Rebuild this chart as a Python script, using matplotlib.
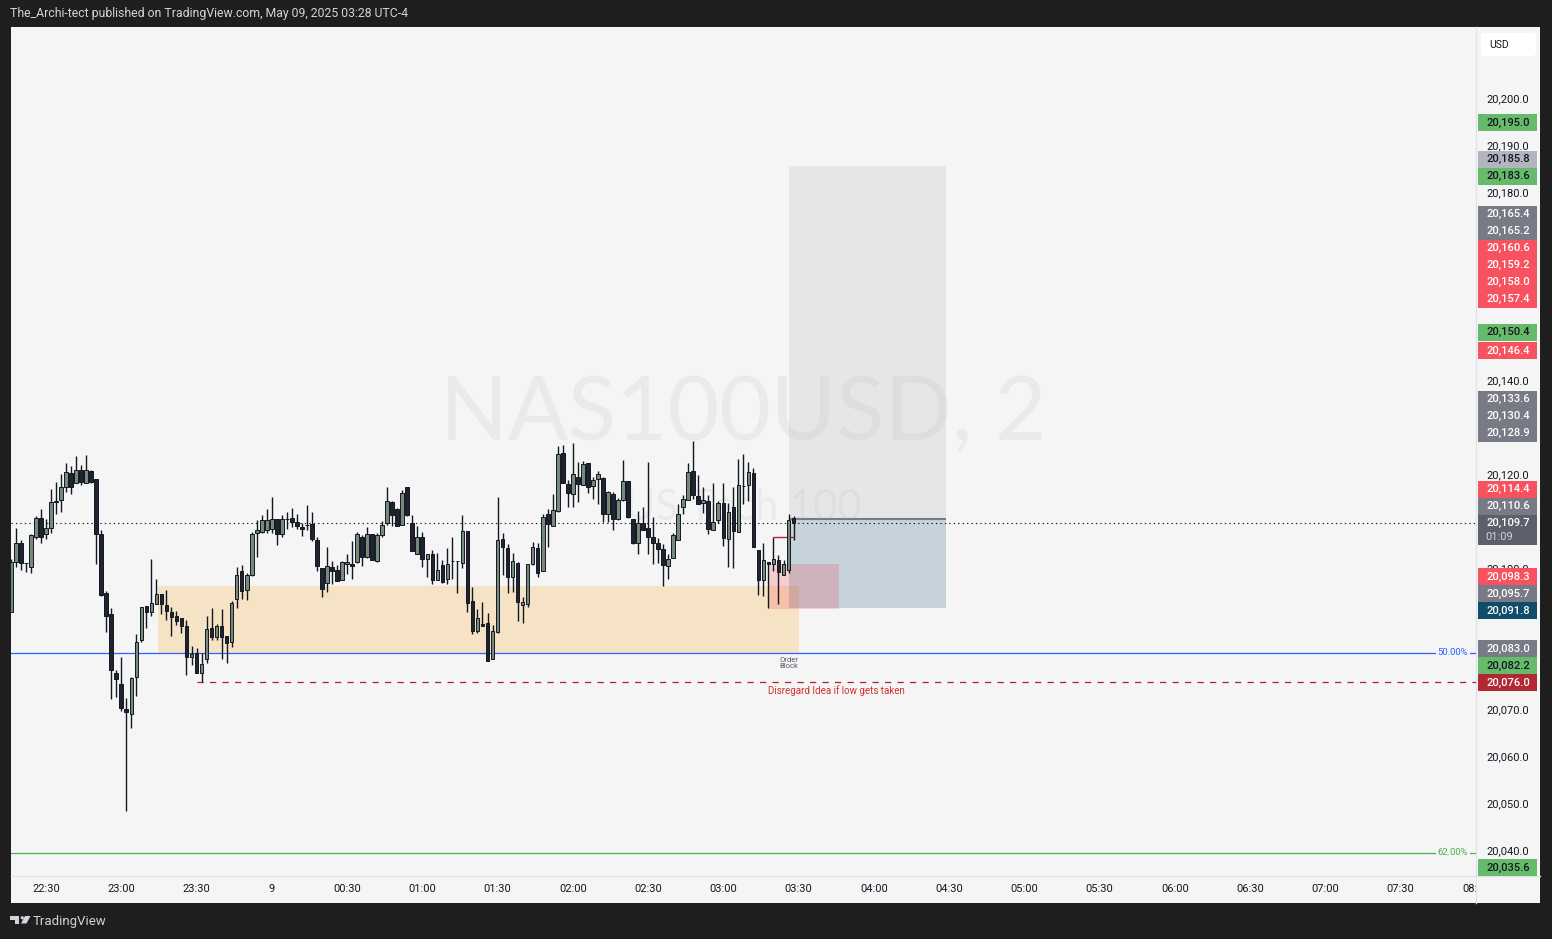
import numpy as np
import matplotlib.pyplot as plt
from matplotlib.patches import Rectangle, Polygon, Circle, FancyBboxPatch

plt.rcParams["font.family"] = ["Roboto", "DejaVu Sans"]

W, H = 1552, 939

# NAS100USD 2-minute candles, first bar 22:16, last bar 03:28
opens = [20090.8, 20101.4, 20105.5, 20101.2, 20100.4, 20106.9, 20110.8, 20107.4, 20108.7, 20114.3,
         20114.6, 20117.4, 20120.4, 20118.4, 20121.0, 20118.3, 20120.8, 20119.1, 20107.4, 20094.8,
         20090.4, 20077.8, 20075.5, 20070.2, 20069.1, 20077.0, 20084.9, 20092.1, 20090.8, 20092.5,
         20094.6, 20092.3, 20090.9, 20090.0, 20089.5, 20087.8, 20081.2, 20082.1, 20077.8, 20080.8,
         20087.4, 20085.6, 20087.8, 20085.7, 20084.4, 20093.6, 20099.5, 20095.5, 20098.7, 20107.6,
         20107.8, 20108.2, 20108.5, 20110.6, 20107.4, 20110.6, 20110.8, 20110.0, 20108.9, 20109.3,
         20109.5, 20106.1, 20100.2, 20097.0, 20100.4, 20099.7, 20097.6, 20101.0, 20101.1, 20101.4,
         20106.8, 20102.5, 20107.4, 20101.6, 20107.2, 20109.7, 20114.2, 20112.7, 20109.3, 20117.4,
         20109.7, 20103.1, 20106.8, 20102.1, 20103.1, 20097.6, 20100.8, 20097.8, 20101.6, 20101.7,
         20101.2, 20108.0, 20093.1, 20086.8, 20088.3, 20088.5, 20080.8, 20086.5, 20106.3, 20104.4,
         20098.2, 20101.2, 20092.3, 20092.5, 20101.0, 20104.4, 20099.5, 20111.7, 20109.1, 20112.3,
         20124.6, 20118.0, 20115.9, 20119.5, 20117.8, 20122.5, 20117.6, 20119.1, 20119.3, 20111.7,
         20115.9, 20110.6, 20114.6, 20118.7, 20110.6, 20105.5, 20109.7, 20108.7, 20106.8, 20105.5,
         20104.2, 20100.6, 20102.3, 20106.1, 20113.1, 20114.6, 20120.8, 20115.5, 20114.0, 20114.4,
         20108.3, 20110.4, 20114.0, 20106.3, 20113.1, 20107.8, 20117.6, 20117.8, 20120.4, 20104.0,
         20097.6, 20101.4, 20101.0, 20101.9, 20098.7, 20099.7, 20110.8]
highs = [20102.1, 20108.7, 20106.2, 20101.3, 20107.4, 20111.3, 20112.8, 20110.7, 20117.0, 20118.5,
         20120.2, 20122.6, 20121.9, 20124.1, 20122.2, 20124.3, 20121.0, 20119.1, 20108.3, 20095.3,
         20091.7, 20078.5, 20081.3, 20072.5, 20077.1, 20086.2, 20092.0, 20092.2, 20102.1, 20097.9,
         20094.6, 20095.5, 20091.9, 20091.0, 20089.5, 20089.2, 20083.6, 20083.1, 20082.1, 20089.9,
         20091.7, 20088.3, 20091.4, 20085.7, 20093.2, 20100.4, 20100.8, 20099.1, 20107.8, 20110.4,
         20111.5, 20112.8, 20115.3, 20110.6, 20111.5, 20112.1, 20112.9, 20111.7, 20109.8, 20113.6,
         20112.1, 20106.8, 20100.2, 20104.6, 20101.7, 20100.8, 20101.6, 20103.1, 20106.0, 20107.8,
         20107.2, 20108.9, 20107.4, 20107.6, 20110.2, 20117.5, 20114.4, 20112.9, 20116.8, 20117.4,
         20111.4, 20109.1, 20107.8, 20103.1, 20104.0, 20103.4, 20101.9, 20104.4, 20106.8, 20101.7,
         20111.4, 20108.0, 20096.1, 20091.4, 20092.9, 20090.6, 20088.0, 20115.3, 20107.6, 20105.3,
         20103.4, 20101.4, 20094.0, 20101.0, 20105.7, 20105.5, 20111.7, 20112.7, 20115.9, 20126.1,
         20126.3, 20118.9, 20126.8, 20122.7, 20122.9, 20122.5, 20119.5, 20120.8, 20119.5, 20116.6,
         20116.3, 20115.1, 20123.2, 20118.7, 20110.6, 20112.3, 20113.1, 20122.7, 20111.0, 20106.6,
         20105.3, 20103.1, 20107.6, 20113.8, 20115.7, 20122.5, 20127.3, 20120.0, 20117.4, 20115.7,
         20118.3, 20114.4, 20118.3, 20114.0, 20117.4, 20123.4, 20124.4, 20122.7, 20121.4, 20104.0,
         20105.5, 20101.4, 20106.8, 20102.9, 20101.9, 20111.7, 20111.2]
lows = [20090.8, 20100.5, 20099.8, 20099.4, 20099.2, 20106.4, 20105.6, 20106.4, 20107.7, 20111.7,
        20112.2, 20116.3, 20115.9, 20118.2, 20117.9, 20118.2, 20118.4, 20101.1, 20094.3, 20086.7,
        20072.3, 20072.7, 20069.7, 20048.6, 20066.1, 20073.0, 20084.5, 20087.5, 20089.9, 20092.5,
        20090.4, 20089.1, 20085.8, 20088.0, 20086.4, 20077.4, 20079.5, 20077.8, 20076.0, 20080.0,
        20084.8, 20084.8, 20080.9, 20080.0, 20083.5, 20091.8, 20093.7, 20093.4, 20098.6, 20102.6,
        20107.7, 20107.7, 20107.7, 20105.0, 20106.9, 20108.5, 20109.0, 20108.6, 20107.1, 20108.2,
        20106.0, 20099.5, 20094.0, 20095.2, 20096.8, 20097.4, 20097.6, 20098.9, 20097.8, 20101.2,
        20100.6, 20102.3, 20101.9, 20101.4, 20106.9, 20109.3, 20109.1, 20109.1, 20109.3, 20111.3,
        20103.8, 20103.1, 20100.5, 20098.2, 20096.8, 20097.6, 20097.0, 20096.8, 20097.8, 20094.9,
        20100.2, 20090.8, 20086.1, 20086.3, 20087.8, 20080.4, 20080.8, 20086.3, 20098.7, 20094.9,
        20095.0, 20089.0, 20088.5, 20091.9, 20100.8, 20098.2, 20099.5, 20104.6, 20109.1, 20112.1,
        20118.3, 20113.1, 20113.1, 20114.2, 20117.8, 20116.1, 20114.9, 20113.8, 20110.0, 20110.0,
        20108.3, 20110.4, 20114.4, 20110.8, 20105.3, 20103.1, 20108.3, 20103.1, 20101.0, 20101.2,
        20096.3, 20097.8, 20102.3, 20106.1, 20111.7, 20114.6, 20114.9, 20113.8, 20111.9, 20107.4,
        20108.3, 20109.7, 20104.8, 20100.4, 20100.2, 20107.8, 20113.8, 20114.4, 20104.6, 20094.4,
        20094.2, 20091.8, 20099.5, 20092.5, 20098.7, 20099.1, 20106.1]
closes = [20101.4, 20105.5, 20101.2, 20101.3, 20107.3, 20110.8, 20106.8, 20108.7, 20114.2, 20114.4,
          20117.4, 20120.6, 20117.5, 20121.0, 20118.6, 20121.0, 20118.5, 20107.4, 20094.5, 20090.0,
          20078.5, 20076.5, 20070.4, 20069.5, 20076.8, 20084.4, 20091.9, 20090.8, 20092.7, 20094.6,
          20092.5, 20091.0, 20089.7, 20088.9, 20087.8, 20081.2, 20081.9, 20077.8, 20079.7, 20087.2,
          20085.6, 20087.8, 20085.6, 20084.2, 20092.7, 20098.7, 20095.3, 20098.7, 20107.4, 20108.3,
          20110.4, 20110.4, 20110.6, 20107.4, 20110.6, 20110.7, 20110.1, 20109.2, 20108.5, 20109.4,
          20106.3, 20100.6, 20095.7, 20100.6, 20099.5, 20097.4, 20101.4, 20101.4, 20100.7, 20107.4,
          20102.5, 20107.4, 20101.9, 20107.2, 20109.3, 20114.4, 20111.4, 20109.1, 20116.1, 20111.4,
          20103.8, 20106.8, 20102.1, 20103.1, 20097.6, 20099.7, 20097.2, 20101.0, 20101.7, 20101.6,
          20108.0, 20092.7, 20086.8, 20089.5, 20087.8, 20080.4, 20086.8, 20106.1, 20104.6, 20098.2,
          20101.7, 20092.9, 20092.9, 20101.0, 20104.6, 20099.1, 20111.0, 20109.5, 20112.5, 20124.4,
          20118.3, 20116.1, 20120.2, 20118.0, 20122.3, 20117.4, 20118.9, 20120.2, 20111.7, 20116.3,
          20110.6, 20114.6, 20118.7, 20111.0, 20105.5, 20109.7, 20108.3, 20106.8, 20105.5, 20104.2,
          20100.8, 20102.1, 20107.2, 20111.7, 20114.8, 20120.6, 20115.7, 20113.8, 20114.6, 20108.5,
          20110.0, 20114.0, 20106.6, 20112.1, 20108.0, 20117.8, 20117.7, 20120.6, 20104.6, 20097.6,
          20101.9, 20101.0, 20102.1, 20099.3, 20101.0, 20110.4, 20109.7]

time_labels = ["22:30", "23:00", "23:30", "9", "00:30", "01:00", "01:30", "02:00", "02:30", "03:00",
               "03:30", "04:00", "04:30", "05:00", "05:30", "06:00", "06:30", "07:00", "07:30", "08:00"]
price_ticks = [20040, 20050, 20060, 20070, 20080, 20090, 20100, 20110, 20120, 20130,
               20140, 20150, 20160, 20170, 20180, 20190, 20200]

# coloured labels on the price scale
label_prices = [20195.0, 20185.8, 20183.6, 20165.4, 20165.2, 20160.6, 20159.2, 20158.0, 20157.4,
                20150.4, 20146.4, 20133.6, 20130.4, 20128.9, 20114.4, 20110.6,
                20098.3, 20095.7, 20091.8, 20083.0, 20082.2, 20076.0, 20035.6]
label_kinds = ["green", "light", "green", "gray", "gray", "red", "red", "red", "red",
               "green", "red", "gray", "gray", "gray", "red", "gray",
               "red", "gray", "teal", "gray", "green", "darkred", "green"]
current_price = 20109.7
countdown = "01:09"

# drawings
ob_top, ob_bottom = 20096.4, 20082.2
fib_50, fib_62 = 20082.2, 20039.6
invalid_level = 20076.0
target, entry, stop = 20185.8, 20110.6, 20091.8
pink_top, pink_bottom = 20101.0, 20091.5
minor_high = 20106.8

UP = "#758a78"
DOWN = "#1f2430"
EDGE = "#131722"
BG = "#f5f5f5"
KIND_COLORS = {
    "green": ("#66bb6a", "#131722"),
    "red": ("#f7525f", "white"),
    "gray": ("#787b86", "white"),
    "light": ("#b2b5be", "#131722"),
    "teal": ("#0f4d6b", "white"),
    "darkred": ("#b22833", "white"),
}


def px_axes(fig, x0, y0, x1, y1, **kw):
    return fig.add_axes([x0 / W, 1 - y1 / H, (x1 - x0) / W, (y1 - y0) / H], **kw)


fig = plt.figure(figsize=(W / 100, H / 100), dpi=100, facecolor="#1e1e1e")

# frame / background in pixel coordinates
bg = fig.add_axes([0, 0, 1, 1], zorder=-10)
bg.set_xlim(0, W)
bg.set_ylim(H, 0)
bg.axis("off")
bg.add_patch(Rectangle((11, 27), 1529, 876, fc=BG, ec="none"))
bg.plot([1476, 1476], [27, 903], color="#e0e3eb", lw=1)
bg.plot([11, 1540], [876, 876], color="#e0e3eb", lw=1)
bg.text(10, 14, "The_Archi-tect published on TradingView.com, May 09, 2025 03:28 UTC-4",
        color="#d1d4dc", fontsize=8.8, va="center", ha="left")
# TradingView logo
bg.add_patch(Rectangle((10, 916), 9, 4, fc="#d1d4dc", ec="none"))
bg.add_patch(Rectangle((15, 916), 4, 7.5, fc="#d1d4dc", ec="none"))
bg.add_patch(Circle((22.3, 917.8), 1.6, fc="#d1d4dc", ec="none"))
bg.add_patch(Polygon([(25, 916), (30.5, 916), (26.5, 923.5), (21, 923.5)], fc="#d1d4dc", ec="none"))
bg.text(32.5, 921, "TradingView", color="#d1d4dc", fontsize=9.5, va="center", ha="left")
bg.add_patch(FancyBboxPatch((1481, 33), 55, 23, boxstyle="round,pad=0,rounding_size=4",
                            fc="white", ec="none"))
bg.text(1489, 44.5, "USD", color="#131722", fontsize=7.5, va="center", ha="left")

# main chart
ax = px_axes(fig, 11, 27, 1476, 876)
ax.set_facecolor("none")
ax.set_xlim(0.02, 292.03)
ax.set_ylim(20034.68, 20215.32)
ax.axis("off")

ax.text(0.5, 0.5135, "NAS100USD, 2", transform=ax.transAxes, ha="center", va="baseline",
        fontsize=64, family=["Lato", "DejaVu Sans"], color="#eaeaea", zorder=0.5)
ax.text(0.5, 0.4193, "US Tech 100", transform=ax.transAxes, ha="center", va="baseline",
        fontsize=30, family=["Lato", "DejaVu Sans"], color="#eaeaea", zorder=0.5)

# order block
ax.add_patch(Rectangle((29.3, ob_bottom), 157 - 29.3, ob_top - ob_bottom,
                       fc="#ff9800", alpha=0.2, lw=0, zorder=1))
# long position tool
ax.add_patch(Rectangle((155, entry), 31.3, target - entry, fc="#b2b5be", alpha=0.22, lw=0, zorder=1))
ax.add_patch(Rectangle((155, stop), 31.3, entry - stop, fc="#417591", alpha=0.26, lw=0, zorder=1))
ax.hlines(entry, 155, 186.3, color="#787b86", lw=1.5, zorder=1.2)
ax.add_patch(Rectangle((151, pink_bottom), 14, pink_top - pink_bottom,
                       fc="#f23645", alpha=0.2, lw=0, zorder=2))

# fib levels
ytr = ax.get_yaxis_transform()
ax.axhline(fib_50, color="#2962ff", lw=0.9, zorder=1.5)
ax.axhline(fib_62, color="#4caf50", lw=0.9, zorder=1.5)
ax.text(0.9843, fib_50, "50.00%", transform=ytr, ha="center", va="center", fontsize=6.8,
        color="#2962ff", zorder=2, bbox=dict(fc=BG, ec="none", pad=1.5))
ax.text(0.9843, fib_62, "62.00%", transform=ytr, ha="center", va="center", fontsize=6.8,
        color="#4caf50", zorder=2, bbox=dict(fc=BG, ec="none", pad=1.5))

ax.hlines(invalid_level, 37, 292.03, colors="#a82530", lw=0.9, linestyles=(0, (5, 5)), zorder=1.5)
ax.annotate("Disregard Idea if low gets taken", (164.5, invalid_level), xytext=(0, -6),
            textcoords="offset points", ha="center", va="center", fontsize=7, color="#d32f2f")
ax.annotate("Order\nBlock", (155, ob_bottom), xytext=(0, -3), textcoords="offset points",
            ha="center", va="top", fontsize=5.5, color="#555a66", linespacing=0.95)
ax.hlines(minor_high, 152, 156, color="#b22833", lw=1.0, zorder=3.5)
ax.axhline(current_price, color="#131722", lw=0.8, linestyle=(0, (1.2, 2.8)), zorder=2.5)

# candles
x = np.arange(len(opens))
o = np.array(opens)
c = np.array(closes)
up = c >= o
ax.vlines(x, lows, highs, color=EDGE, lw=1.0, zorder=3)
ax.bar(x[up], np.maximum(c - o, 0.05)[up], bottom=o[up], width=0.72,
       color=UP, edgecolor=EDGE, lw=0.7, zorder=4)
ax.bar(x[~up], np.maximum(o - c, 0.05)[~up], bottom=c[~up], width=0.72,
       color=DOWN, edgecolor=EDGE, lw=0.7, zorder=4)

# price scale
axp = px_axes(fig, 1476, 27, 1540, 876)
axp.set_facecolor("none")
axp.set_xlim(0, 64)
axp.set_ylim(ax.get_ylim())
axp.axis("off")

ylo, yhi = ax.get_ylim()
ppp = 849 / (yhi - ylo)          # pixels per price unit
lab_h = 17 / ppp

# labels are pushed away from the current price label so they never overlap
cur_top = current_price + 8.5 / ppp
cur_bot = current_price - 21.5 / ppp
centers = {}
limit = cur_top + lab_h / 2
for i in sorted([i for i, p in enumerate(label_prices) if p > current_price], key=lambda i: label_prices[i]):
    centers[i] = max(label_prices[i], limit)
    limit = centers[i] + lab_h
limit = cur_bot - lab_h / 2
for i in sorted([i for i, p in enumerate(label_prices) if p < current_price], key=lambda i: -label_prices[i]):
    centers[i] = max(min(label_prices[i], limit), ylo + lab_h / 2)
    limit = centers[i] - lab_h

# tick labels that sit under a coloured label are hidden, as on the chart
for p in price_ticks:
    covered = any(abs(p - yc) < lab_h / 2 - 1 / ppp for yc in centers.values())
    covered = covered or (cur_bot - 1 / ppp < p < cur_top + 1 / ppp)
    if not covered:
        axp.text(32, p, f"{p:,.1f}", ha="center", va="center", fontsize=8, color="#131722", zorder=1)

for i, yc in centers.items():
    fc, tc = KIND_COLORS[label_kinds[i]]
    axp.add_patch(Rectangle((2, yc - lab_h / 2), 59, lab_h, fc=fc, ec="none", zorder=3))
    axp.text(32, yc, f"{label_prices[i]:,.1f}", ha="center", va="center", fontsize=8,
             color=tc, zorder=4, fontweight="medium")

axp.add_patch(Rectangle((2, cur_bot), 59, cur_top - cur_bot, fc="#5d606b", ec="none", zorder=3))
axp.text(32, current_price, f"{current_price:,.1f}", ha="center", va="center", fontsize=8,
         color="white", zorder=4, fontweight="medium")
axp.text(9, current_price - 14 / ppp, countdown, ha="left", va="center", fontsize=8,
         color="#d1d4dc", zorder=4)

# time scale
axt = px_axes(fig, 11, 876, 1476, 903)
axt.set_facecolor("none")
axt.set_xlim(ax.get_xlim())
axt.set_ylim(0, 1)
axt.axis("off")
for k, lab in enumerate(time_labels):
    axt.text(7 + 15 * k, 0.5, lab, ha="center", va="center", fontsize=8, color="#131722", clip_on=True)

fig.savefig("out.png", dpi=100, facecolor=fig.get_facecolor())
